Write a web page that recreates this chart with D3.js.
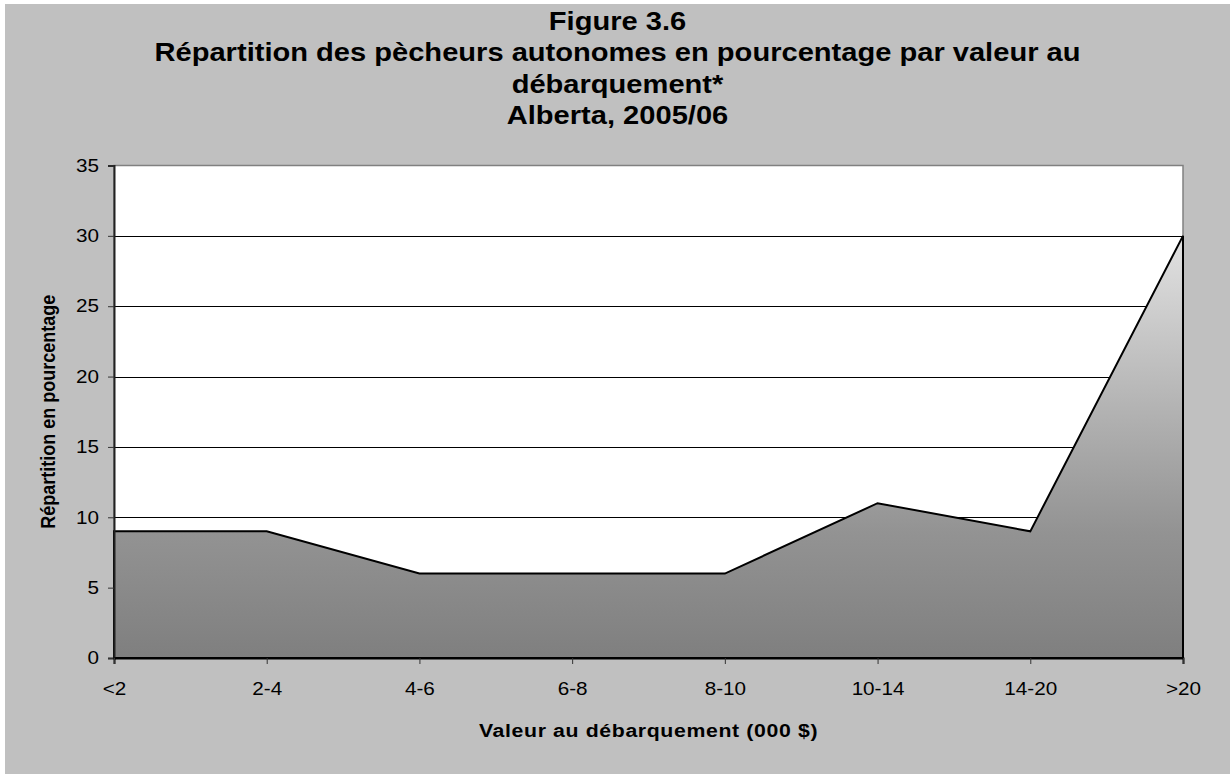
<!DOCTYPE html>
<html>
<head>
<meta charset="utf-8">
<script src="https://cdn.jsdelivr.net/npm/d3@7/dist/d3.min.js"></script>
<style>
  html, body { margin: 0; padding: 0; background: #ffffff; }
  svg { display: block; }
  text { font-family: "Liberation Sans", Arial, sans-serif; fill: #000; }
</style>
</head>
<body>
<svg id="chart" width="1230" height="774"></svg>
<script>
// Landed-value classes (thousands of dollars) and share of self-employed fishers in each
const categories = ["<2", "2-4", "4-6", "6-8", "8-10", "10-14", "14-20", ">20"];
const values = [9, 9, 6, 6, 6, 11, 9, 30];
const yTicks = [0, 5, 10, 15, 20, 25, 30, 35];
const titleLines = [
  "Figure 3.6",
  "Répartition des pècheurs autonomes en pourcentage par valeur au",
  "débarquement*",
  "Alberta, 2005/06"
];
const xTitle = "Valeur au débarquement (000 $)";
const yTitle = "Répartition en pourcentage";

const W = 1230, H = 774;
const plot = { left: 114, right: 1183, top: 165.5, bottom: 658 };
const sx = 1.15; // text is drawn slightly wide

const svg = d3.select("#chart");

// chart background
svg.append("rect")
  .attr("x", 5).attr("y", 4)
  .attr("width", W - 5).attr("height", H - 4)
  .attr("fill", "#c0c0c0");

const x = d3.scalePoint().domain(categories).range([plot.left, plot.right]);
const y = d3.scaleLinear().domain([0, 35]).range([plot.bottom, plot.top]);

// plot area
svg.append("rect")
  .attr("x", plot.left).attr("y", plot.top)
  .attr("width", plot.right - plot.left).attr("height", plot.bottom - plot.top)
  .attr("fill", "#ffffff")
  .attr("stroke", "#808080").attr("stroke-width", 1.5);

// horizontal gridlines
svg.append("g")
  .selectAll("line")
  .data(yTicks.filter(t => t > 0 && t < 35))
  .join("line")
  .attr("x1", plot.left).attr("x2", plot.right)
  .attr("y1", d => Math.round(y(d)) + 0.5).attr("y2", d => Math.round(y(d)) + 0.5)
  .attr("stroke", "#000").attr("stroke-width", 1);

// vertical gradient fill for the area
const defs = svg.append("defs");
const grad = defs.append("linearGradient")
  .attr("id", "areaFill")
  .attr("gradientUnits", "userSpaceOnUse")
  .attr("x1", 0).attr("x2", 0)
  .attr("y1", y(d3.max(values))).attr("y2", y(0));
grad.append("stop").attr("offset", "0").attr("stop-color", "#e2e2e2");
grad.append("stop").attr("offset", "0.4").attr("stop-color", "#b4b4b4");
grad.append("stop").attr("offset", "0.7").attr("stop-color", "#939393");
grad.append("stop").attr("offset", "1").attr("stop-color", "#7f7f7f");

const area = d3.area()
  .x((d, i) => x(categories[i]))
  .y0(y(0))
  .y1(d => y(d));

svg.append("path")
  .datum(values)
  .attr("d", area)
  .attr("fill", "url(#areaFill)")
  .attr("stroke", "#000")
  .attr("stroke-width", 2)
  .attr("stroke-linejoin", "miter");

// y axis
const yAxis = d3.axisLeft(y).tickValues(yTicks).tickSize(6).tickPadding(9);
const gy = svg.append("g")
  .attr("transform", `translate(${plot.left},0)`)
  .call(yAxis);
gy.select(".domain").attr("stroke", "#222").attr("stroke-width", 2);
gy.selectAll(".tick line").attr("stroke", "#333");
gy.selectAll(".tick text")
  .attr("font-family", "Liberation Sans, Arial, sans-serif")
  .attr("font-size", 18).attr("fill", "#000")
  .attr("x", -15 / sx)
  .attr("transform", `scale(${sx},1)`);

// x axis
const xAxis = d3.axisBottom(x).tickSize(6).tickPadding(18);
const gx = svg.append("g")
  .attr("transform", `translate(0,${plot.bottom})`)
  .call(xAxis);
gx.select(".domain").attr("stroke", "#000").attr("stroke-width", 2);
gx.selectAll(".tick line").attr("stroke", "#333");
gx.selectAll(".tick text")
  .attr("font-family", "Liberation Sans, Arial, sans-serif")
  .attr("font-size", 18).attr("fill", "#000")
  .attr("transform", `scale(${sx},1)`);

// title
const cx = (5 + W) / 2;
const titleBaselines = [30, 61, 93, 124];
svg.append("g")
  .selectAll("text")
  .data(titleLines)
  .join("text")
  .attr("transform", (d, i) => `translate(${cx},${titleBaselines[i]}) scale(${sx},1)`)
  .attr("text-anchor", "middle")
  .attr("font-weight", "bold")
  .attr("font-size", 25.3)
  .text(d => d);

// axis titles
svg.append("text")
  .attr("transform", `translate(${(plot.left + plot.right) / 2},737) scale(${sx},1)`)
  .attr("text-anchor", "middle")
  .attr("font-weight", "bold")
  .attr("font-size", 18.5)
  .attr("letter-spacing", 0.55)
  .text(xTitle);

svg.append("text")
  .attr("transform", `translate(54.5,${(plot.top + plot.bottom) / 2}) scale(${sx},1) rotate(-90)`)
  .attr("text-anchor", "middle")
  .attr("font-weight", "bold")
  .attr("font-size", 18)
  .text(yTitle);
</script>
</body>
</html>
